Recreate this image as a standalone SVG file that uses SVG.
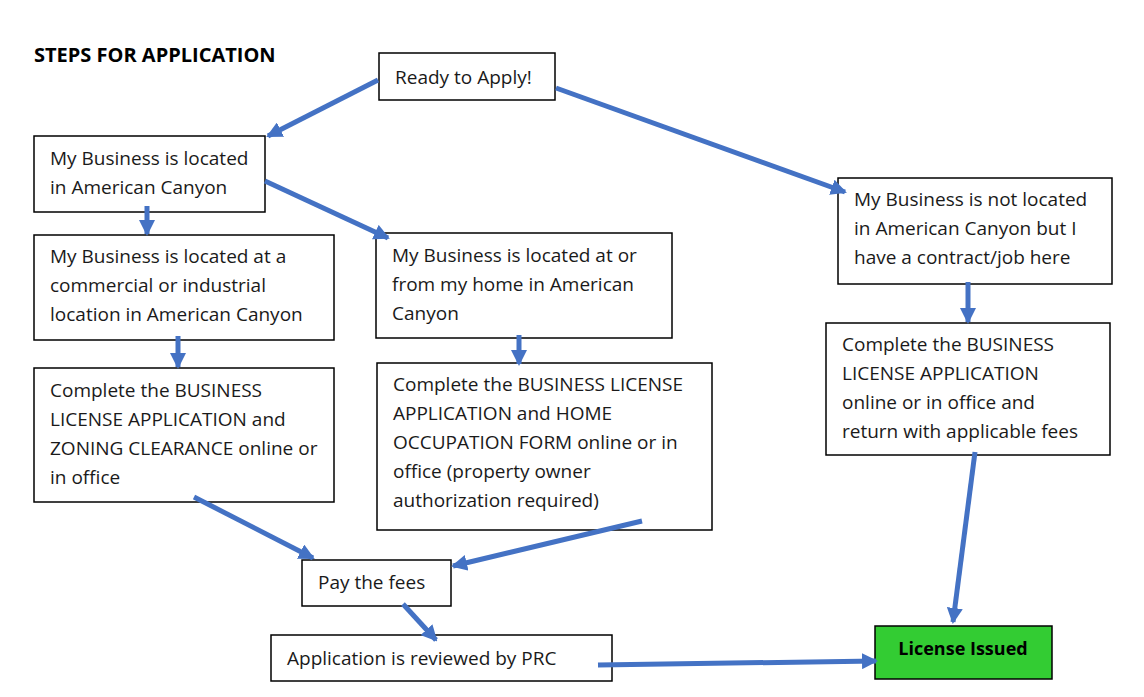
<svg xmlns="http://www.w3.org/2000/svg" width="1144" height="697" viewBox="0 0 1144 697">
<defs>
<marker id="ah" viewBox="0 0 16 16" refX="14" refY="8" markerWidth="16" markerHeight="16" markerUnits="userSpaceOnUse" orient="auto">
<path d="M0,0 L16,8 L0,16 Z" fill="#4472C4"/>
</marker>
<style>
.box{fill:#fff;stroke:#000;stroke-width:1.5}
.t{font-family:"Open Sans","Liberation Sans",sans-serif;font-size:19px;fill:#1a1a1a}
.c{stroke:#4472C4;stroke-width:5;fill:none;marker-end:url(#ah)}
</style>
</defs>
<rect width="1144" height="697" fill="#fff"/>
<text x="34" y="62" font-family="Open Sans, Liberation Sans, sans-serif" font-size="20" font-weight="bold" fill="#000">STEPS FOR APPLICATION</text>
<g id="ready"><rect class="box" x="379" y="53" width="176" height="47"/><text class="t" x="395" y="84">Ready to Apply!</text></g>
<g id="located"><rect class="box" x="34" y="136" width="231" height="76"/><text class="t" x="50" y="165">My Business is located</text><text class="t" x="50" y="194">in American Canyon</text></g>
<g id="commercial"><rect class="box" x="34" y="235" width="300" height="105"/><text class="t" x="50" y="263">My Business is located at a</text><text class="t" x="50" y="292">commercial or industrial</text><text class="t" x="50" y="321">location in American Canyon</text></g>
<g id="home"><rect class="box" x="376" y="233" width="296" height="105"/><text class="t" x="392" y="262">My Business is located at or</text><text class="t" x="392" y="291">from my home in American</text><text class="t" x="392" y="320">Canyon</text></g>
<g id="notlocated"><rect class="box" x="838" y="178" width="274" height="106"/><text class="t" x="854" y="206">My Business is not located</text><text class="t" x="854" y="235">in American Canyon but I</text><text class="t" x="854" y="264">have a contract/job here</text></g>
<g id="complete-commercial"><rect class="box" x="34" y="368" width="300" height="134"/><text class="t" x="50" y="397">Complete the BUSINESS</text><text class="t" x="50" y="426">LICENSE APPLICATION and</text><text class="t" x="50" y="455">ZONING CLEARANCE online or</text><text class="t" x="50" y="484">in office</text></g>
<g id="complete-home"><rect class="box" x="377" y="363" width="335" height="167"/><text class="t" x="393" y="391">Complete the BUSINESS LICENSE</text><text class="t" x="393" y="420">APPLICATION and HOME</text><text class="t" x="393" y="449">OCCUPATION FORM online or in</text><text class="t" x="393" y="478">office (property owner</text><text class="t" x="393" y="507">authorization required)</text></g>
<g id="complete-contract"><rect class="box" x="826" y="323" width="284" height="132"/><text class="t" x="842" y="351">Complete the BUSINESS</text><text class="t" x="842" y="380">LICENSE APPLICATION</text><text class="t" x="842" y="409">online or in office and</text><text class="t" x="842" y="438">return with applicable fees</text></g>
<g id="pay"><rect class="box" x="302" y="560" width="149" height="46"/><text class="t" x="318" y="589">Pay the fees</text></g>
<g id="review"><rect class="box" x="271" y="635" width="341" height="46"/><text class="t" x="287" y="665">Application is reviewed by PRC</text></g>
<g id="issued"><rect x="875" y="626" width="177" height="53" fill="#33CC33" stroke="#000" stroke-width="1.5"/><text x="963" y="655" text-anchor="middle" font-family="Open Sans, Liberation Sans, sans-serif" font-size="18" font-weight="bold" fill="#000">License Issued</text></g>
<g id="connectors">
<line class="c" x1="378" y1="80" x2="268" y2="136"/>
<line class="c" x1="556" y1="88" x2="845" y2="192"/>
<line class="c" x1="147" y1="206" x2="147" y2="234"/>
<line class="c" x1="265" y1="181" x2="388" y2="238"/>
<line class="c" x1="178" y1="336" x2="178" y2="367"/>
<line class="c" x1="519" y1="335" x2="519" y2="364"/>
<line class="c" x1="968" y1="282" x2="968" y2="322"/>
<line class="c" x1="194" y1="497" x2="313" y2="558"/>
<line class="c" x1="642" y1="521" x2="453" y2="566"/>
<line class="c" x1="403" y1="604" x2="436" y2="640"/>
<line class="c" x1="598" y1="665" x2="876" y2="661"/>
<line class="c" x1="975" y1="452" x2="953" y2="622"/>
</g>
</svg>
